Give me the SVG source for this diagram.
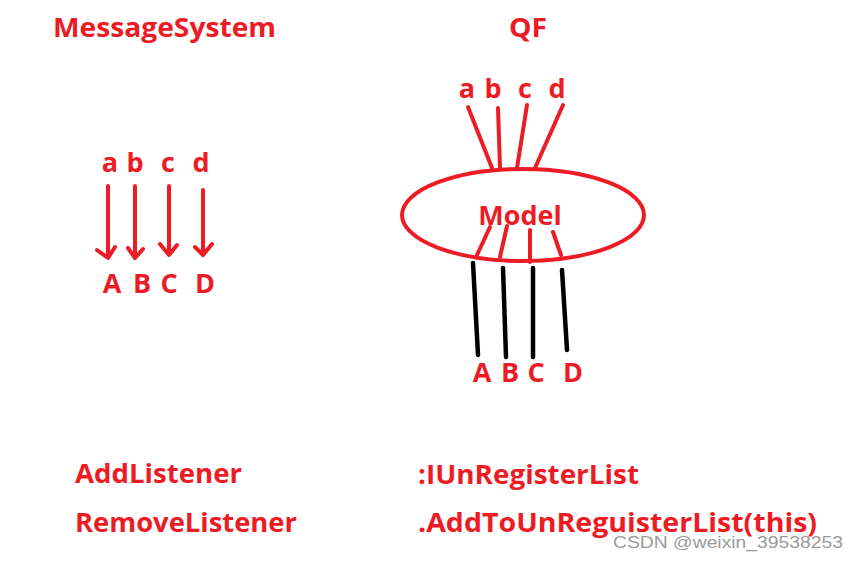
<svg xmlns="http://www.w3.org/2000/svg" width="858" height="561" viewBox="0 0 858 561">
<style>
.t{font-family:"Open Sans","Noto Sans","Liberation Sans",sans-serif;font-weight:bold;fill:#ED1C24;font-size:27px}
.c{text-anchor:middle}
.r{stroke:#ED1C24;stroke-width:4;fill:none;stroke-linecap:round;stroke-linejoin:round}
.k{stroke:#000;stroke-width:4.5;fill:none;stroke-linecap:round}
.w{font-family:"Liberation Sans",Arial,sans-serif;font-size:17px;fill:#9a9a9a}
</style>
<rect width="858" height="561" fill="#fff"/>
<g id="title-ms"><text class="t" x="53" y="37" textLength="223" lengthAdjust="spacingAndGlyphs">MessageSystem</text></g>
<g id="title-qf"><text class="t" x="509" y="37" textLength="38" lengthAdjust="spacingAndGlyphs">QF</text></g>
<g id="ms-inputs">
<text class="t c" x="110" y="172">a</text>
<text class="t c" x="135" y="172">b</text>
<text class="t c" x="168" y="172">c</text>
<text class="t c" x="201" y="172">d</text>
</g>
<g id="ms-outputs">
<text class="t c" x="112" y="293">A</text>
<text class="t c" x="142" y="293">B</text>
<text class="t c" x="169" y="293">C</text>
<text class="t c" x="205" y="293">D</text>
</g>
<g id="model">
<ellipse class="r" cx="523" cy="215" rx="121" ry="46"/>
<text class="t c" x="520" y="225">Model</text>
</g>
<g id="qf-inputs">
<text class="t c" x="467" y="98">a</text>
<text class="t c" x="493" y="98">b</text>
<text class="t c" x="525" y="98">c</text>
<text class="t c" x="557" y="98">d</text>
</g>
<g id="qf-outputs">
<text class="t c" x="482" y="382">A</text>
<text class="t c" x="510" y="382">B</text>
<text class="t c" x="536" y="382">C</text>
<text class="t c" x="573" y="382">D</text>
</g>
<g id="connectors">
<path class="r" d="M108 186V257M97 250L108 258L115 247"/>
<path class="r" d="M135 186V257M128 248L135 258L143 249"/>
<path class="r" d="M169 186V255M160 244L169 255L177 245"/>
<path class="r" d="M203 190V255M195 247L203 255L212 244"/>
<path class="r" d="M468 107L492 168M498 108L500 168M527 105L517 168M563 105L535 168"/>
<path class="r" d="M490 227L477 255M507 226L500 257M530 230L530 262M553 232L561 255"/>
<path class="k" d="M473 263L478 355M503 268L506 357M533 268L533 357M562 270L567 350"/>
</g>
<g id="notes">
<text class="t" x="75" y="483" textLength="167" lengthAdjust="spacingAndGlyphs">AddListener</text>
<text class="t" x="75" y="532" textLength="222" lengthAdjust="spacingAndGlyphs">RemoveListener</text>
<text class="t" x="418" y="484" textLength="221" lengthAdjust="spacingAndGlyphs">:IUnRegisterList</text>
<text class="t" x="418" y="532" textLength="399" lengthAdjust="spacingAndGlyphs">.AddToUnReguisterList(this)</text>
</g>
<text class="w" x="613" y="548" textLength="230" lengthAdjust="spacingAndGlyphs">CSDN @weixin_39538253</text>
</svg>
